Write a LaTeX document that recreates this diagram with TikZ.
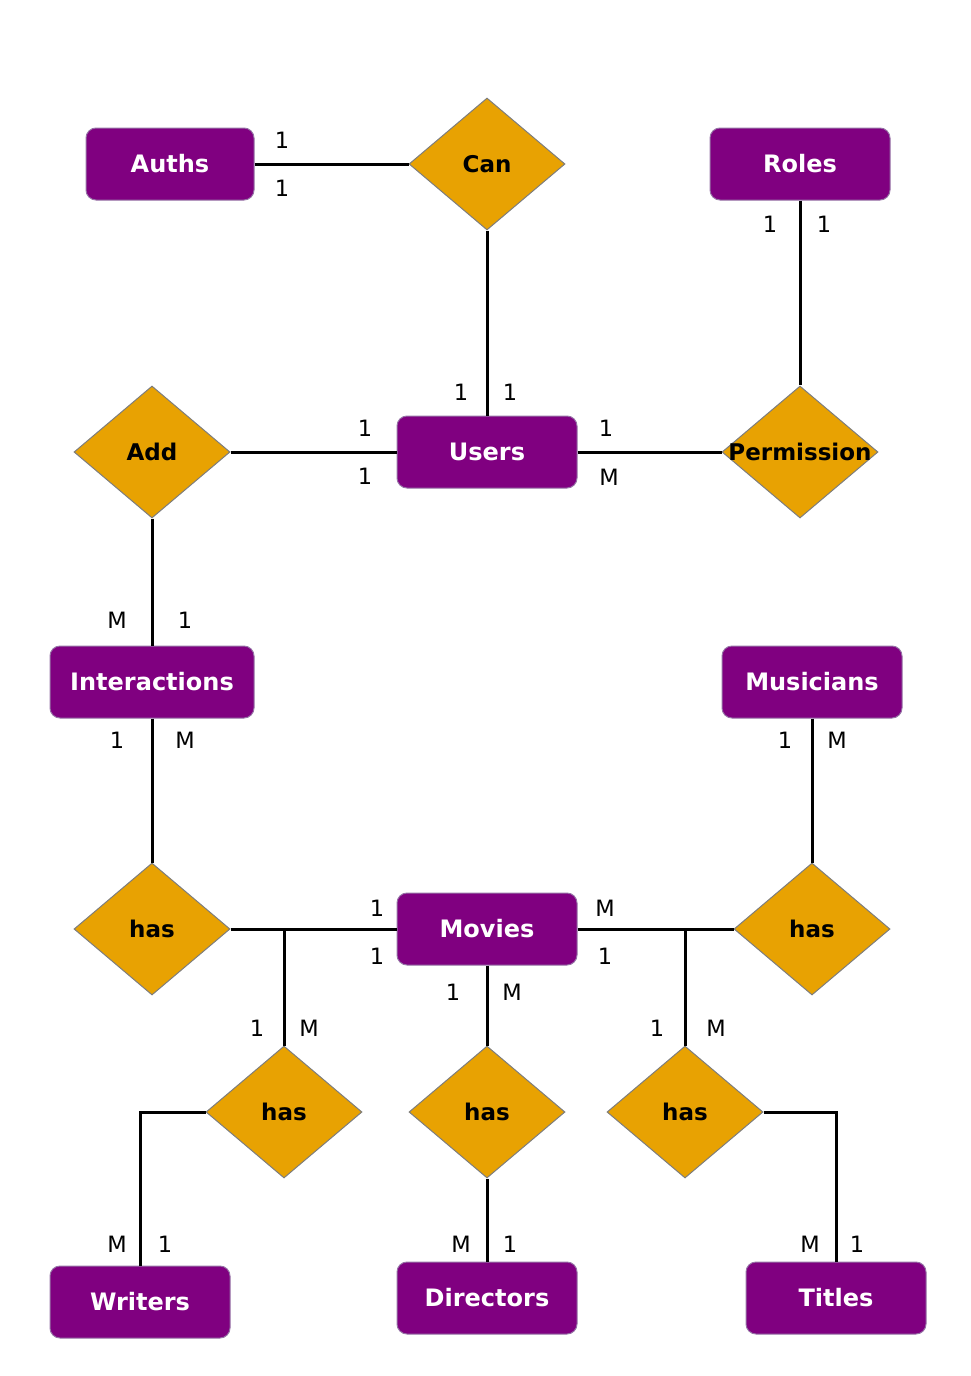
\documentclass[tikz,border=0pt]{standalone}
\usepackage{fontspec}
\setmainfont{DejaVu Sans}
\usetikzlibrary{shapes.geometric}
\definecolor{entity_purple}{RGB}{128, 0, 128}
\definecolor{entity_border}{RGB}{150, 115, 166}
\definecolor{relation_gold}{RGB}{232, 162, 2}
\definecolor{relation_border}{RGB}{125, 125, 125}
\tikzset{
    entity_node/.style={
        draw=entity_border,
        fill=entity_purple,
        line width=1pt,
        rounded corners=10pt,
        minimum width=180pt,
        minimum height=72pt,
        inner sep=0pt,
        text=white,
        font=\fontsize{24}{28}\selectfont\bfseries
    },
    relation_node/.style={
        diamond,
        aspect=1.18,
        draw=relation_border,
        fill=relation_gold,
        line width=1pt,
        minimum width=156pt,
        minimum height=132pt,
        inner sep=0pt,
        text=black,
        font=\fontsize{23}{27}\selectfont\bfseries
    },
    link_style/.style={
        line width=3pt,
        draw=black
    },
    card_label/.style={
        inner sep=0pt,
        font=\fontsize{22.5}{26}\selectfont
    }
}
\begin{document}
\begin{tikzpicture}[x=1pt, y=-1pt]

\useasboundingbox (0,0) rectangle (971,1376);

% Entities
\node[entity_node, minimum width=168pt] (auths) at (170,164) {Auths};
\node[entity_node] (roles) at (800,164) {Roles};
\node[entity_node] (users) at (487,452) {Users};
\node[entity_node, minimum width=204pt] (interactions) at (152,682) {Interactions};
\node[entity_node] (musicians) at (812,682) {Musicians};
\node[entity_node] (movies) at (487,929) {Movies};
\node[entity_node] (writers) at (140,1302) {Writers};
\node[entity_node] (directors) at (487,1298) {Directors};
\node[entity_node] (titles) at (836,1298) {Titles};

% Relationships
\node[relation_node] (can) at (487,164) {Can};
\node[relation_node] (add) at (152,452) {Add};
\node[relation_node, inner xsep=-12pt] (permission) at (800,452) {Permission};
\node[relation_node] (has_interactions) at (152,929) {has};
\node[relation_node] (has_musicians) at (812,929) {has};
\node[relation_node] (has_writers) at (284,1112) {has};
\node[relation_node] (has_directors) at (487,1112) {has};
\node[relation_node] (has_titles) at (685,1112) {has};

% Branch points on the Movies line
\coordinate (writers_join) at (284,929);
\coordinate (titles_join) at (685,929);

% Connecting lines
\draw[link_style] (auths) -- (can);
\draw[link_style] (can) -- (users);
\draw[link_style] (roles) -- (permission);
\draw[link_style] (add) -- (users);
\draw[link_style] (users) -- (permission);
\draw[link_style] (add) -- (interactions);
\draw[link_style] (interactions) -- (has_interactions);
\draw[link_style] (musicians) -- (has_musicians);
\draw[link_style] (has_interactions) -- (movies);
\draw[link_style] (movies) -- (has_musicians);
\draw[link_style] (writers_join) -- (has_writers);
\draw[link_style] (titles_join) -- (has_titles);
\draw[link_style] (movies) -- (has_directors);
\draw[link_style] (has_writers) -| (writers);
\draw[link_style] (has_directors) -- (directors);
\draw[link_style] (has_titles) -| (titles);

% Cardinalities
\foreach \cx/\cy/\ct [count=\i] in {
    282/140/1, 282/188/1,
    461/392/1, 510/392/1,
    770/224/1, 824/224/1,
    365/428/1, 365/476/1,
    606/428/1, 609/477/M,
    117/620/M, 185/620/1,
    117/740/1, 185/740/M,
    785/740/1, 837/740/M,
    377/908/1, 377/956/1,
    605/908/M, 605/956/1,
    453/992/1, 512/992/M,
    257/1028/1, 309/1028/M,
    657/1028/1, 716/1028/M,
    117/1244/M, 165/1244/1,
    461/1244/M, 510/1244/1,
    810/1244/M, 857/1244/1} {
    \node[card_label] (card\i) at (\cx,\cy) {\ct};
}

\end{tikzpicture}
\end{document}
